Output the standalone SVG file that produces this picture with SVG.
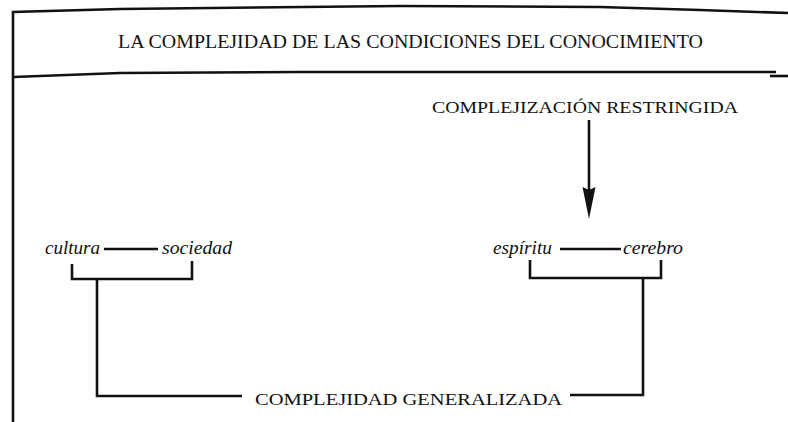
<svg xmlns="http://www.w3.org/2000/svg" width="788" height="422" viewBox="0 0 788 422">
<defs>
<style>
.t{font-family:"Liberation Serif","Times New Roman",serif;fill:#111;}
.cap{font-size:17.5px;}
.it{font-size:18px;font-style:italic;}
.ln{stroke:#111;fill:none;stroke-width:2.6;stroke-linejoin:miter;stroke-linecap:butt;}
.fr{stroke:#111;fill:none;stroke-width:2.6;}
.head{fill:#111;stroke:none;}
</style>
</defs>
<rect width="788" height="422" fill="#fff"/>
<g id="frame">
<path class="fr" d="M13,422 L13,12 L120,9 L400,6 L600,7 L700,10 L788,13"/>
<path class="fr" d="M13,77 L120,73 L300,72 L776,72"/>
<path class="fr" d="M770,76 L788,76" stroke-width="1.5"/>
</g>
<g id="title"><text class="t" x="118" y="48" font-size="19.5" textLength="585" lengthAdjust="spacingAndGlyphs">LA COMPLEJIDAD DE LAS CONDICIONES DEL CONOCIMIENTO</text></g>
<g id="restringida"><text class="t cap" x="432" y="113" textLength="306" lengthAdjust="spacingAndGlyphs">COMPLEJIZACIÓN RESTRINGIDA</text></g>
<g id="cultura"><text class="t it" x="45" y="254" textLength="55" lengthAdjust="spacingAndGlyphs">cultura</text></g>
<g id="sociedad"><text class="t it" x="162" y="254" textLength="70" lengthAdjust="spacingAndGlyphs">sociedad</text></g>
<g id="espiritu"><text class="t it" x="493" y="254" textLength="59" lengthAdjust="spacingAndGlyphs">espíritu</text></g>
<g id="cerebro"><text class="t it" x="623" y="254" textLength="60" lengthAdjust="spacingAndGlyphs">cerebro</text></g>
<g id="generalizada"><text class="t cap" x="255" y="405" textLength="307" lengthAdjust="spacingAndGlyphs">COMPLEJIDAD GENERALIZADA</text></g>
<g id="connectors">
<path class="ln" d="M589,120 L589,192" stroke-width="2.2"/>
<path class="head" d="M582.5,187 L589,190 L595.5,187 L589,219 Z"/>
<path class="ln" d="M104,249 L158,249"/>
<path class="ln" d="M560,249 L621,249"/>
<path class="ln" d="M72,264 L72,279 L192,279 L192,261"/>
<path class="ln" d="M97,279 L97,396 L242,396"/>
<path class="ln" d="M530,260 L530,278 L661,278 L661,260"/>
<path class="ln" d="M643,278 L643,395 L570,395"/>
</g>
</svg>
